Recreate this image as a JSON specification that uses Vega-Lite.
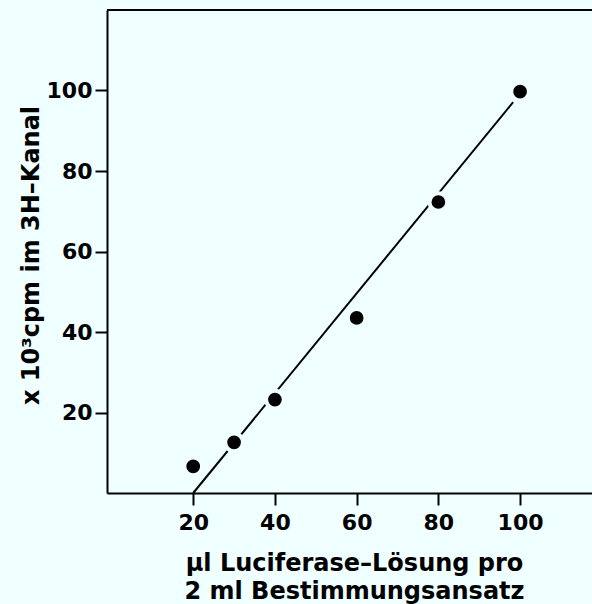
{
  "$schema": "https://vega.github.io/schema/vega-lite/v6.json",
  "width": 485,
  "height": 483,
  "autosize": {"type": "none"},
  "padding": {"left": 107, "top": 10, "right": 0, "bottom": 111},
  "background": "#f0ffff",
  "config": {
    "view": {"stroke": null},
    "font": "DejaVu Sans",
    "axis": {
      "domainColor": "#000000",
      "domainWidth": 2,
      "tickColor": "#000000",
      "tickWidth": 2,
      "tickSize": 12,
      "grid": false,
      "labelFont": "DejaVu Sans",
      "labelFontSize": 22,
      "labelFontWeight": "bold",
      "labelColor": "#000000",
      "titleFont": "DejaVu Sans",
      "titleFontSize": 24,
      "titleFontWeight": "bold",
      "titleColor": "#000000"
    }
  },
  "datasets": {
    "messwerte": [
      {"volumen": 20, "cpm": 6.6},
      {"volumen": 30, "cpm": 12.6},
      {"volumen": 40, "cpm": 23.2},
      {"volumen": 60, "cpm": 43.5},
      {"volumen": 80, "cpm": 72.3},
      {"volumen": 100, "cpm": 99.7}
    ],
    "gerade": [
      {"volumen": 20, "cpm": 0},
      {"volumen": 98.3, "cpm": 97.1}
    ],
    "rahmen": [
      {"cpm": 120}
    ]
  },
  "layer": [
    {
      "data": {"name": "gerade"},
      "mark": {"type": "line", "color": "#000000", "strokeWidth": 2},
      "encoding": {
        "x": {
          "field": "volumen",
          "type": "quantitative",
          "scale": {"domain": [-1.1, 117.6], "nice": false, "zero": false},
          "axis": {
            "values": [20, 40, 60, 80, 100],
            "labelPadding": 7,
            "title": ["µl Luciferase–Lösung pro", "2 ml Bestimmungsansatz"],
            "titleX": 247,
            "titleY": 77,
            "titleAnchor": null,
            "titleAlign": "center",
            "titleBaseline": "alphabetic",
            "titleLineHeight": 28
          }
        },
        "y": {
          "field": "cpm",
          "type": "quantitative",
          "scale": {"domain": [0, 120], "nice": false},
          "axis": {
            "values": [20, 40, 60, 80, 100],
            "labelPadding": 3,
            "title": "x 10³cpm im 3H–Kanal",
            "titleAngle": -90,
            "titleX": -69,
            "titleY": 245,
            "titleAlign": "center",
            "titleBaseline": "alphabetic"
          }
        }
      }
    },
    {
      "data": {"name": "messwerte"},
      "mark": {
        "type": "point",
        "shape": "circle",
        "filled": true,
        "color": "#000000",
        "stroke": "#f0ffff",
        "strokeWidth": 4,
        "size": 314,
        "opacity": 1
      },
      "encoding": {
        "x": {"field": "volumen", "type": "quantitative"},
        "y": {"field": "cpm", "type": "quantitative"}
      }
    },
    {
      "data": {"name": "rahmen"},
      "mark": {"type": "rule", "color": "#000000", "strokeWidth": 2},
      "encoding": {"y": {"field": "cpm", "type": "quantitative"}}
    }
  ]
}
